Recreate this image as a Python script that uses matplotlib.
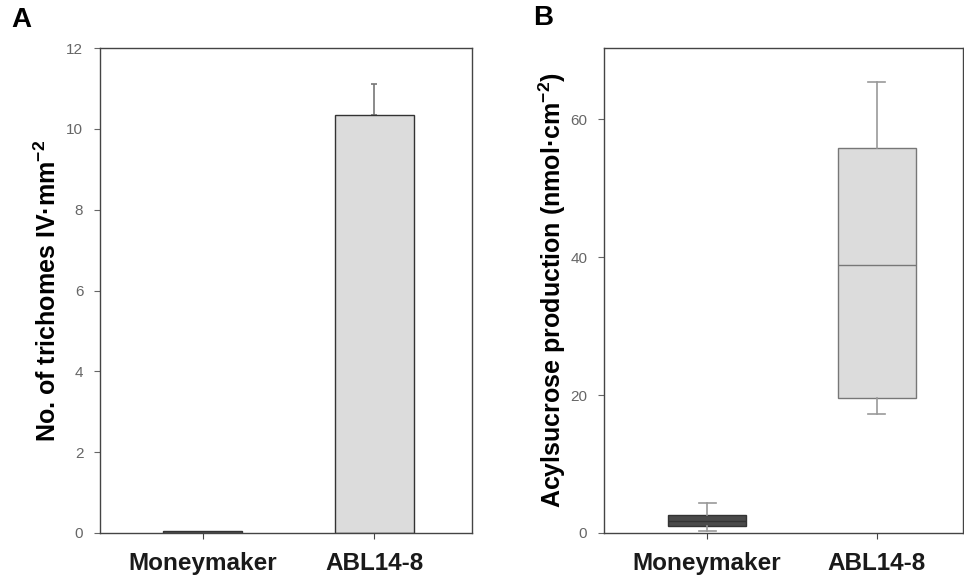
import matplotlib
matplotlib.use("Agg")
import matplotlib.pyplot as plt

plt.rcParams['font.family'] = ['Liberation Sans', 'DejaVu Sans']
plt.rcParams['mathtext.fontset'] = 'custom'
plt.rcParams['mathtext.rm'] = 'Liberation Sans'
plt.rcParams['mathtext.bf'] = 'Liberation Sans:bold'

# Panel A data
categories = ["Moneymaker", "ABL14-8"]
trichome_means = [0.05, 10.35]
trichome_err = [0.0, 0.75]
bar_colors = ["#555555", "#dcdcdc"]
a_yticks = [0, 2, 4, 6, 8, 10, 12]

# Panel B data (box plot summaries)
box_whislo = [0.3, 17.2]
box_q1 = [1.0, 19.5]
box_med = [1.7, 38.8]
box_q3 = [2.6, 55.8]
box_whishi = [4.4, 65.3]
box_colors = ["#4a4a4a", "#dcdcdc"]
b_yticks = [0, 20, 40, 60]

W, H = 964, 579
fig = plt.figure(figsize=(W/100, H/100), dpi=100)

def frac(l, r, t, b):
    return [l/W, 1 - b/H, (r-l)/W, (b-t)/H]

spine_c = "#444444"
tick_c = "#666666"

axA = fig.add_axes(frac(100, 472, 48, 533))
axB = fig.add_axes(frac(604, 963, 48, 533))

pos = list(range(len(categories)))

# Panel A
axA.bar(pos, trichome_means, width=0.46, color=bar_colors, edgecolor="#333333", linewidth=1.0, zorder=2)
axA.errorbar(pos[1:], trichome_means[1:], yerr=[[0], trichome_err[1:]], fmt='none',
             ecolor="#777777", elinewidth=1.2, capsize=2.5, capthick=1.2, zorder=1)
axA.set_xlim(-0.60, 1.57)
axA.set_ylim(0, 12)
axA.set_yticks(a_yticks)
axA.set_ylabel(r"No. of trichomes IV·mm$^{\mathbf{-2}}$", fontsize=18, fontweight='bold', labelpad=4)

# Panel B
stats = []
for i in range(len(categories)):
    stats.append(dict(whislo=box_whislo[i], q1=box_q1[i], med=box_med[i],
                      q3=box_q3[i], whishi=box_whishi[i], fliers=[]))
bp = axB.bxp(stats, positions=pos, widths=0.46, patch_artist=True, showfliers=False,
             boxprops=dict(linewidth=1.0, edgecolor="#777777"),
             medianprops=dict(color="#777777", linewidth=1.0),
             whiskerprops=dict(color="#999999", linewidth=1.2),
             capprops=dict(color="#999999", linewidth=1.2), capwidths=0.1)
for patch, c in zip(bp['boxes'], box_colors):
    patch.set_facecolor(c)
bp['boxes'][0].set_edgecolor("#333333")
bp['medians'][0].set_color("#333333")
axB.set_xlim(-0.606, 1.506)
axB.set_ylim(0, 70.3)
axB.set_yticks(b_yticks)
axB.set_ylabel(r"Acylsucrose production (nmol·cm$^{\mathbf{-2}}$)", fontsize=18, fontweight='bold', labelpad=2)

for ax in (axA, axB):
    ax.set_xticks(pos)
    ax.set_xticklabels(categories, fontsize=17.5, fontweight='bold')
    ax.tick_params(axis='y', labelsize=11, colors=tick_c, length=4, direction='out', labelcolor=tick_c, pad=8)
    ax.tick_params(axis='x', length=4, direction='out', colors=spine_c, labelcolor="#1a1a1a", pad=10)
    for s in ax.spines.values():
        s.set_color(spine_c)
        s.set_linewidth(1.0)

fig.text(11/W, 1 - 20/H, "A", fontsize=20, fontweight='bold', va='center', ha='left')
fig.text(533/W, 1 - 18/H, "B", fontsize=20, fontweight='bold', va='center', ha='left')

fig.savefig("out.png", dpi=100)
